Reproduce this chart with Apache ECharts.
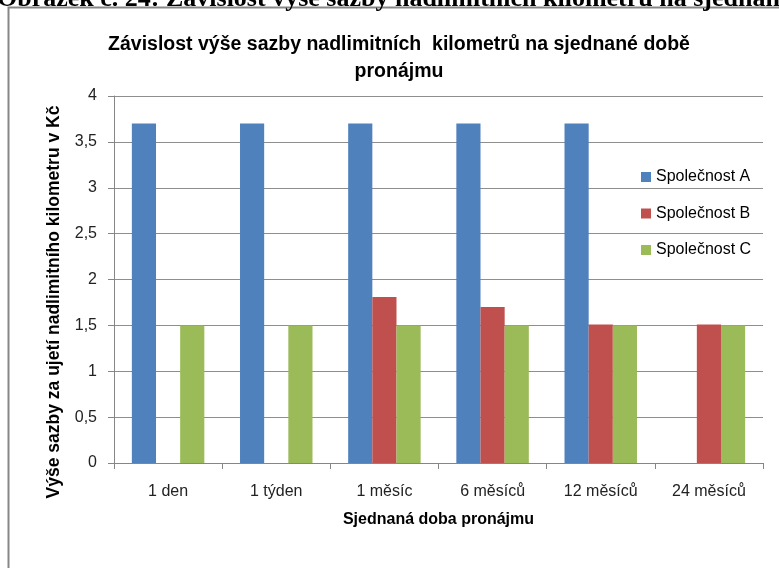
<!DOCTYPE html>
<html>
<head>
<meta charset="utf-8">
<script src="https://cdn.jsdelivr.net/npm/echarts@6/dist/echarts.min.js"></script>
<style>
html,body{margin:0;padding:0;background:#fff;}
#c{width:779px;height:568px;}
</style>
</head>
<body>
<div id="c"></div>
<script>
const categories = ['1 den', '1 týden', '1 měsíc', '6 měsíců', '12 měsíců', '24 měsíců'];
const seriesNames = ['Společnost A', 'Společnost B', 'Společnost C'];
const valuesA = [3.7, 3.7, 3.7, 3.7, 3.7, null];
const valuesB = [null, null, 1.81, 1.7, 1.51, 1.51];
const valuesC = [1.5, 1.5, 1.5, 1.5, 1.5, 1.5];
const yTicks = { min: 0, max: 4, interval: 0.5 };
const titleText = 'Závislost výše sazby nadlimitních  kilometrů na sjednané době\npronájmu';
const yName = 'Výše sazby za ujetí nadlimitního kilometru v Kč';
const xName = 'Sjednaná doba pronájmu';
const captionText = 'Obrázek č. 24: Závislost výše sazby nadlimitních kilometrů na sjednané době pronájmu';

const colors = ['#4F81BD', '#C0504D', '#9BBB59'];
const font = '"Liberation Sans", Arial, sans-serif';
const chart = echarts.init(document.getElementById('c'));
const allValues = [valuesA, valuesB, valuesC];

chart.setOption({
  animation: false,
  color: colors,
  textStyle: { fontFamily: font },
  title: {
    text: titleText,
    left: 394, textAlign: 'center', top: 26,
    textStyle: { fontFamily: font, fontSize: 19.5, fontWeight: 'bold', color: '#000', lineHeight: 27 }
  },
  graphic: [
    { type: 'rect', shape: { x: 8.5, y: 7.5, width: 800, height: 600 }, style: { fill: 'none', stroke: '#878787', lineWidth: 2 }, z: -10 },
    { type: 'text', x: -3, y: -14, style: { text: captionText, font: 'bold 26px "Liberation Serif", serif', fill: '#000', verticalAlign: 'top' } },
    { type: 'text', x: 54, y: 302, rotation: Math.PI / 2, style: { text: yName, font: 'bold 17.5px "Liberation Sans", Arial, sans-serif', fill: '#000', align: 'center', verticalAlign: 'middle' } }
  ],
  legend: {
    orient: 'vertical', left: 636, top: 164,
    itemWidth: 10, itemHeight: 10, itemGap: 20.5,
    icon: 'rect',
    textStyle: { fontFamily: font, fontSize: 16, lineHeight: 16, color: '#000', padding: [0, 0, 0, 0] },
    data: seriesNames
  },
  grid: { left: 114, right: 16, top: 96, bottom: 105 },
  xAxis: {
    type: 'category', data: categories,
    name: xName, nameLocation: 'middle', nameGap: 49,
    nameTextStyle: { fontFamily: font, fontSize: 16, fontWeight: 'bold', color: '#000' },
    axisLine: { lineStyle: { color: '#868686', width: 1 } },
    axisTick: { show: true, length: 6, lineStyle: { color: '#868686' } },
    axisLabel: { fontFamily: font, fontSize: 16, color: '#222', margin: 21 }
  },
  yAxis: {
    type: 'value', min: yTicks.min, max: yTicks.max, interval: yTicks.interval,
    axisLine: { show: true, lineStyle: { color: '#868686', width: 1 } },
    axisTick: { show: true, length: 6, lineStyle: { color: '#868686' } },
    splitLine: { lineStyle: { color: '#8e8e8e', width: 1.2 } },
    axisLabel: { fontFamily: font, fontSize: 16, color: '#222', margin: 17,
      formatter: v => String(v).replace('.', ',') }
  },
  series: seriesNames.map((n, i) => ({
    name: n, type: 'bar', data: allValues[i],
    barGap: '0%', barCategoryGap: '33%'
  }))
});
</script>
</body>
</html>
